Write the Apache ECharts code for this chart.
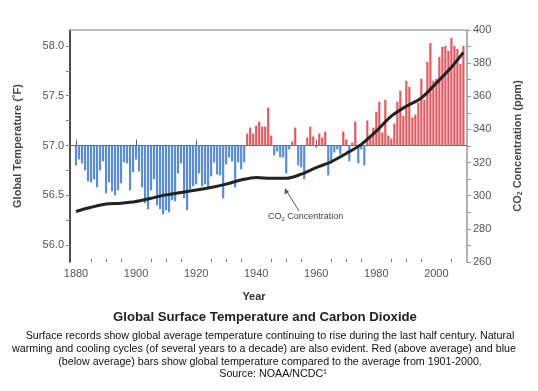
<!DOCTYPE html>
<html><head><meta charset="utf-8">
<script src="https://cdn.jsdelivr.net/npm/echarts@6/dist/echarts.min.js"></script>
<style>html,body{margin:0;padding:0;background:#fff}#c{width:538px;height:391px}</style>
</head><body><div id="c"></div>
<script>
// ---- data ----
const years = [1880,1881,1882,1883,1884,1885,1886,1887,1888,1889,
1890,1891,1892,1893,1894,1895,1896,1897,1898,1899,
1900,1901,1902,1903,1904,1905,1906,1907,1908,1909,
1910,1911,1912,1913,1914,1915,1916,1917,1918,1919,
1920,1921,1922,1923,1924,1925,1926,1927,1928,1929,
1930,1931,1932,1933,1934,1935,1936,1937,1938,1939,
1940,1941,1942,1943,1944,1945,1946,1947,1948,1949,
1950,1951,1952,1953,1954,1955,1956,1957,1958,1959,
1960,1961,1962,1963,1964,1965,1966,1967,1968,1969,
1970,1971,1972,1973,1974,1975,1976,1977,1978,1979,
1980,1981,1982,1983,1984,1985,1986,1987,1988,1989,
1990,1991,1992,1993,1994,1995,1996,1997,1998,1999,
2000,2001,2002,2003,2004,2005,2006,2007,2008,2009];
// global temperature (deg F)
const tempF = [56.80,56.86,56.82,56.75,56.64,56.63,56.66,56.58,56.75,56.84,
56.52,56.63,56.54,56.50,56.55,56.62,56.83,56.82,56.55,56.73,
56.86,56.74,56.58,56.42,56.36,56.55,56.66,56.40,56.36,56.31,
56.35,56.33,56.45,56.44,56.72,56.82,56.47,56.35,56.56,56.59,
56.61,56.72,56.59,56.61,56.58,56.69,56.83,56.71,56.70,56.47,
56.81,56.88,56.84,56.58,56.83,56.76,56.83,57.12,57.18,57.12,
57.20,57.24,57.19,57.19,57.38,57.10,56.90,56.94,56.88,56.88,
56.72,56.96,57.04,57.18,56.80,56.78,56.66,57.08,57.19,57.09,
56.98,57.12,57.08,57.14,56.70,56.82,56.93,56.96,56.91,57.14,
57.06,56.84,57.03,57.24,56.82,56.96,56.80,57.25,57.08,57.18,
57.34,57.44,57.13,57.46,57.10,57.07,57.22,57.44,57.55,57.30,
57.65,57.59,57.28,57.31,57.43,57.67,57.46,57.84,58.03,57.65,
57.67,57.89,57.99,58.00,57.95,58.08,58.00,57.97,57.82,58.00];
const baseTempF = 57.0;
// CO2 concentration (ppm)
const co2Years = [1880,1885,1890,1895,1900,1905,1910,1915,1920,1925,1930,1935,1940,1945,1950,1955,1960,1965,1970,1975,1980,1985,1990,1995,2000,2005,2009];
const co2Ppm   = [290.5,293,295,295.5,296.5,298.5,300.5,302,303.5,305,307,309.5,311,310.5,310.5,313,317,320.5,325.5,331,339,348,354,359,368,377.5,386.5];
// tick labels
const yearLabels = [1880,1900,1920,1940,1960,1980,2000];
const yearMinorTicks = [1885,1890,1895,1905,1910,1915,1925,1930,1935,1945,1950,1955,1965,1970,1975,1985,1990,1995,2005];
const tempLabels = [56.0,56.5,57.0,57.5,58.0];
const tempTicks = [56.0,56.25,56.5,56.75,57.0,57.25,57.5,57.75,58.0];
const co2Labels = [260,280,300,320,340,360,380,400];
const co2Ticks = [260,270,280,290,300,310,320,330,340,350,360,370,380,390,400];

// ---- chart ----
const FONT = '"Liberation Sans", Arial, sans-serif';
const BLUE = '#5b8dd5', RED = '#e15b63';
const XMIN = 1878, XMAX = 2010.2;
const barData = years.map((y, i) => [y, Math.round((tempF[i] - baseTempF) * 100) / 100]);
const co2Data = co2Years.map((y, i) => [y, co2Ppm[i]]);
const rel = a => a.map(t => Math.round((t - baseTempF) * 100) / 100);
const CAP = '10.7px ' + FONT;

const chart = echarts.init(document.getElementById('c'));
chart.setOption({
  animation: false,
  backgroundColor: '#fff',
  textStyle: { fontFamily: FONT },
  grid: { left: 70, right: 71, top: 30, bottom: 129 },
  xAxis: [
    { type: 'value', min: XMIN, max: XMAX, position: 'bottom',
      axisLine: { lineStyle: { color: '#666', width: 1 } },
      axisTick: { inside: true, length: 6, customValues: yearLabels, lineStyle: { color: '#666' } },
      axisLabel: { customValues: yearLabels, color: '#555', fontSize: 11, margin: 6, fontFamily: FONT,
        formatter: v => String(Math.round(v)) },
      splitLine: { show: false } },
    { type: 'value', min: XMIN, max: XMAX, position: 'bottom',
      axisLine: { show: false },
      axisTick: { inside: true, length: 3, customValues: yearMinorTicks, lineStyle: { color: '#777' } },
      axisLabel: { show: false }, splitLine: { show: false } },
    { type: 'value', min: XMIN, max: XMAX, position: 'top',
      axisLine: { show: true, lineStyle: { color: '#aaa', width: 1.5 } },
      axisTick: { show: false }, axisLabel: { show: false }, splitLine: { show: false } }
  ],
  yAxis: [
    { type: 'value', min: -1.17, max: 1.16, position: 'left',
      name: 'Global Temperature (˚F)', nameLocation: 'middle', nameGap: 47, nameRotate: 90,
      nameTextStyle: { color: '#444', fontWeight: 'bold', fontSize: 11, fontFamily: FONT },
      axisLine: { show: true, lineStyle: { color: '#111', width: 1.5 } },
      axisTick: { show: true, length: 4, customValues: rel(tempTicks), lineStyle: { color: '#888' } },
      axisLabel: { customValues: rel(tempLabels), color: '#555', fontSize: 11, margin: 6, fontFamily: FONT,
        formatter: v => (baseTempF + v).toFixed(1) },
      splitLine: { show: false } },
    { type: 'value', min: 260, max: 400, position: 'right',
      name: 'CO{s|2} Concentration (ppm)', nameLocation: 'middle', nameGap: 44, nameRotate: 90,
      nameTextStyle: { color: '#444', fontWeight: 'bold', fontSize: 11, fontFamily: FONT,
        rich: { s: { fontSize: 7, fontWeight: 'bold', color: '#444', padding: [6, 0, 0, 0] } } },
      axisLine: { show: true, lineStyle: { color: '#999', width: 1.5 } },
      axisTick: { show: true, length: 4, customValues: co2Ticks, lineStyle: { color: '#999' } },
      axisLabel: { customValues: co2Labels, color: '#555', fontSize: 11, margin: 6, fontFamily: FONT },
      splitLine: { show: false } }
  ],
  series: [
    { type: 'bar', xAxisIndex: 0, yAxisIndex: 0, data: barData, barWidth: 2.2,
      itemStyle: { color: p => (p.value[1] >= 0 ? RED : BLUE) } },
    { type: 'line', xAxisIndex: 0, yAxisIndex: 1, data: co2Data, smooth: 0.3,
      symbol: 'none', lineStyle: { color: '#222', width: 3 }, z: 5 }
  ],
  graphic: [
    { type: 'line', shape: { x1: 299, y1: 211, x2: 286, y2: 190 }, style: { stroke: '#555', lineWidth: 1 } },
    { type: 'polygon', shape: { points: [[285, 188], [284.5, 194.5], [289, 192]] }, style: { fill: '#555' } },
    { type: 'text', left: 268, top: 212,
      style: { text: 'CO{s|2} Concentration', fill: '#444', font: '9px ' + FONT,
        rich: { s: { fontSize: 6, fill: '#444', padding: [5, 0, 0, 0] } } } },
    { type: 'text', x: 254, y: 297, style: { text: 'Year',
      fill: '#333', font: 'bold 11px ' + FONT, align: 'center', verticalAlign: 'middle' } },
    { type: 'text', x: 265, y: 317, style: { text: 'Global Surface Temperature and Carbon Dioxide',
      fill: '#222', font: 'bold 13.2px ' + FONT, align: 'center', verticalAlign: 'middle' } },
    { type: 'text', x: 270, y: 336, style: { text: 'Surface records show global average temperature continuing to rise during the last half century. Natural',
      fill: '#111', font: CAP, align: 'center', verticalAlign: 'middle' } },
    { type: 'text', x: 264, y: 349, style: { text: 'warming and cooling cycles (of several years to a decade) are also evident. Red (above average) and blue',
      fill: '#111', font: CAP, align: 'center', verticalAlign: 'middle' } },
    { type: 'text', x: 270, y: 362, style: { text: '(below average) bars show global temperature compared to the average from 1901-2000.',
      fill: '#111', font: CAP, align: 'center', verticalAlign: 'middle' } },
    { type: 'text', x: 273, y: 374, style: { text: 'Source: NOAA/NCDC¹',
      fill: '#111', font: CAP, align: 'center', verticalAlign: 'middle' } }
  ]
});
</script>
</body></html>
